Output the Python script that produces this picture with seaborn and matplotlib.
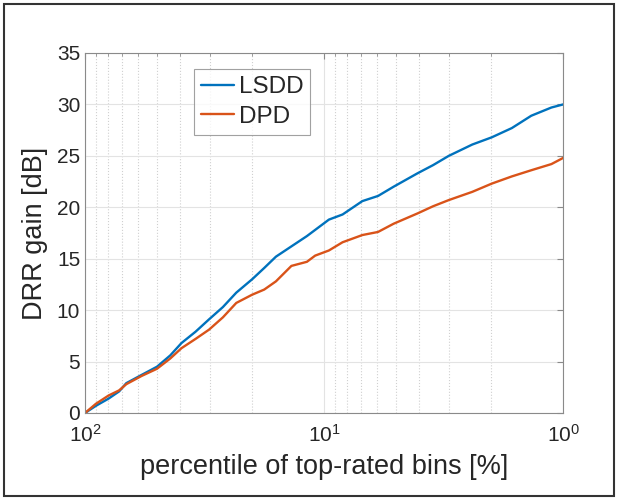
import numpy as np
import pandas as pd
import matplotlib
matplotlib.use("Agg")
import matplotlib.pyplot as plt
import seaborn as sns
from matplotlib.patches import Rectangle
from matplotlib.ticker import LogLocator, NullFormatter

# percentile of top-rated bins [%] (x runs from 100 down to 1)
percentile = [100, 90, 79.7, 72, 67.2, 58, 50, 44, 39.5, 34.5, 30.3, 26.5, 23.3,
              20, 17.8, 15.9, 13.7, 11.8, 10.9, 9.55, 8.37, 6.92, 5.95, 5.12,
              4.07, 3.5, 3.01, 2.4, 1.99, 1.64, 1.36, 1.12, 1.0]
lsdd = [0.0, 0.7, 1.4, 2.1, 2.9, 3.7, 4.5, 5.6, 6.8, 7.9, 9.1, 10.3, 11.7,
        13.0, 14.1, 15.2, 16.2, 17.2, 17.8, 18.8, 19.3, 20.6, 21.1, 22.0,
        23.3, 24.1, 25.0, 26.1, 26.8, 27.7, 28.9, 29.7, 30.0]
dpd = [0.0, 0.9, 1.7, 2.2, 2.8, 3.6, 4.3, 5.3, 6.3, 7.2, 8.1, 9.3, 10.7,
       11.5, 12.0, 12.8, 14.3, 14.7, 15.3, 15.8, 16.6, 17.3, 17.6, 18.4,
       19.4, 20.1, 20.7, 21.5, 22.3, 23.0, 23.6, 24.2, 24.8]

df = pd.DataFrame({
    "percentile": percentile * 2,
    "gain": lsdd + dpd,
    "method": ["LSDD"] * len(lsdd) + ["DPD"] * len(dpd),
})

sns.set_style("white")
plt.rcParams["font.family"] = ["Liberation Sans", "DejaVu Sans"]
plt.rcParams["mathtext.default"] = "regular"

fig = plt.figure(figsize=(6.17, 4.98), dpi=100)
ax = fig.add_axes([0.1378, 0.1707, 0.775, 0.7229])

sns.lineplot(data=df, x="percentile", y="gain", hue="method",
             palette={"LSDD": "#0072BD", "DPD": "#D95319"},
             linewidth=1.7, ax=ax, sort=False)

ax.set_xscale("log")
ax.set_xlim(100, 1)
ax.set_ylim(0, 35)
ax.set_yticks(range(0, 36, 5))
ax.xaxis.set_major_locator(LogLocator(base=10, numticks=10))
ax.xaxis.set_minor_locator(LogLocator(base=10, subs=np.arange(2, 10), numticks=10))
ax.xaxis.set_minor_formatter(NullFormatter())

ax.grid(True, which="major", color="#e3e3e3", linewidth=0.8)
ax.grid(True, which="minor", axis="x", color="#d0d0d0", linestyle=":", linewidth=0.8)

for s in ax.spines.values():
    s.set_color("#8a8a8a")
    s.set_linewidth(0.8)
ax.tick_params(which="both", direction="in", colors="#8a8a8a", labelcolor="#262626",
               top=True, right=True, labelsize=15)
ax.tick_params(which="major", length=4)
ax.tick_params(which="minor", length=2)
ax.tick_params(axis="x", pad=8)

ax.set_xlabel("percentile of top-rated bins [%]", fontsize=19.5, color="#262626",
              labelpad=6)
ax.set_ylabel("DRR gain [dB]", fontsize=19.5, color="#262626", labelpad=6)

leg = ax.legend(loc="upper left", bbox_to_anchor=(0.228, 0.955), fontsize=17.5,
                frameon=True, fancybox=False, edgecolor="#8a8a8a",
                handlelength=1.35, handletextpad=0.18, borderpad=0.3,
                labelspacing=0.3, borderaxespad=0)
leg.get_frame().set_linewidth(0.8)
for line in leg.get_lines():
    line.set_linewidth(1.7)

fig.patches.append(Rectangle((0.007, 0.004), 0.988, 0.988, transform=fig.transFigure,
                             fill=False, edgecolor="#333333", linewidth=1.5))

fig.savefig("out.png", dpi=100)
